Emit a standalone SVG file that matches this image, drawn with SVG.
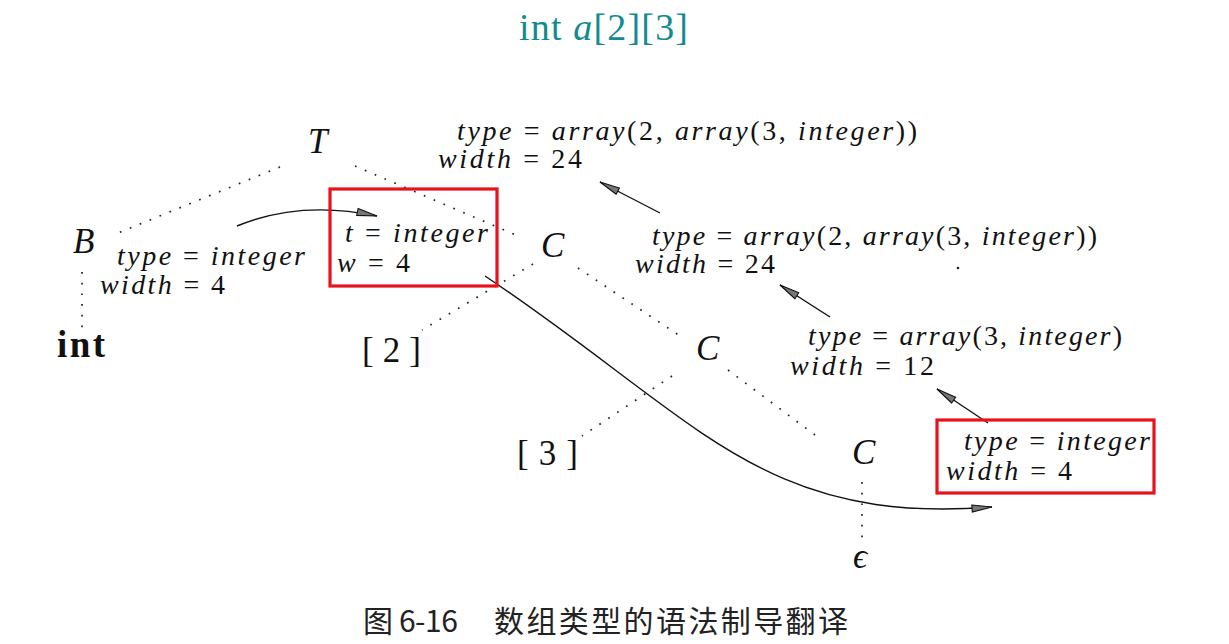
<svg xmlns="http://www.w3.org/2000/svg" width="1229" height="644" viewBox="0 0 1229 644">
<style>
.lbl{font-family:"Liberation Serif",serif;font-style:italic;font-size:35px;fill:#111}
.attr{font-family:"Liberation Serif",serif;font-style:italic;font-size:28px;fill:#111}
.up{font-style:normal}
.br{font-family:"Liberation Serif",serif;font-size:35px;fill:#111}
.dot{stroke:#222;stroke-width:1.7;stroke-dasharray:1.7 9;fill:none}
.arr{stroke:#111;stroke-width:1.4;fill:none;marker-end:url(#ah)}
.box{fill:none;stroke:#e8121b;stroke-width:3.2}
.cap{font-family:"Noto Sans CJK SC","Noto Sans CJK TC",sans-serif;font-size:30px;fill:#222}
</style>
<defs>
<marker id="ah" markerUnits="userSpaceOnUse" markerWidth="24" markerHeight="12" refX="21" refY="5" orient="auto">
<path d="M1,1.5 L21,5 L1,8.5 Z" fill="#777" stroke="#111" stroke-width="1.1"/>
</marker>
</defs>
<rect width="1229" height="644" fill="#fff"/>
<text id="title" x="519" y="40" font-family="Liberation Serif,serif" font-size="38" fill="#138a8f" textLength="169">int <tspan font-style="italic">a</tspan>[2][3]</text>

<g id="connectors">
<line class="dot" x1="280" y1="167" x2="118" y2="233"/>
<line class="dot" x1="355" y1="166" x2="518" y2="236"/>
<line class="dot" x1="82" y1="272" x2="82" y2="328"/>
<line class="dot" x1="533" y1="264" x2="422" y2="330"/>
<line class="dot" x1="578" y1="268" x2="683" y2="338"/>
<line class="dot" x1="672" y1="376" x2="582" y2="436"/>
<line class="dot" x1="728" y1="370" x2="815" y2="435"/>
<line class="dot" x1="862" y1="482" x2="862" y2="546"/>
<path class="arr" d="M237,226 Q300,200 377,216"/>
<path class="arr" d="M485,276 C700,420 760,525 992,507"/>
<path class="arr" d="M660,213 L600,182"/>
<path class="arr" d="M830,317 L780,285"/>
<path class="arr" d="M988,423 L937,389"/>
</g>

<g id="node-T">
<text class="lbl" x="308" y="153" textLength="24">T</text>
<text class="attr" x="457" y="140" textLength="460">type<tspan class="up"> = </tspan>array<tspan class="up">(2, </tspan>array<tspan class="up">(3, </tspan>integer<tspan class="up">))</tspan></text>
<text class="attr" x="438" y="168" textLength="144">width<tspan class="up"> = 24</tspan></text>
</g>

<g id="node-B">
<text class="lbl" x="73" y="253" textLength="22">B</text>
<text class="attr" x="117" y="265" textLength="188">type<tspan class="up"> = </tspan>integer</text>
<text class="attr" x="100" y="294" textLength="125">width<tspan class="up"> = 4</tspan></text>
</g>

<g id="node-int">
<text x="57" y="357" font-family="Liberation Serif,serif" font-weight="bold" font-size="37" fill="#111" textLength="48">int</text>
</g>

<g id="node-inh1">
<rect class="box" x="330" y="189" width="167" height="97"/>
<text class="attr" x="345" y="242" textLength="143">t<tspan class="up"> = </tspan>integer</text>
<text class="attr" x="337" y="272" textLength="73">w<tspan class="up"> = 4</tspan></text>
</g>

<g id="node-C1">
<text class="lbl" x="541" y="257" textLength="23">C</text>
<text class="attr" x="652" y="245" textLength="445">type<tspan class="up"> = </tspan>array<tspan class="up">(2, </tspan>array<tspan class="up">(3, </tspan>integer<tspan class="up">))</tspan></text>
<text class="attr" x="635" y="273" textLength="140">width<tspan class="up"> = 24</tspan></text>
<circle cx="958" cy="268" r="1.3" fill="#222"/>
</g>

<g id="node-2">
<text class="br" x="362" y="362" textLength="59">[ 2 ]</text>
</g>

<g id="node-C2">
<text class="lbl" x="696" y="360" textLength="23">C</text>
<text class="attr" x="808" y="345" textLength="314">type<tspan class="up"> = </tspan>array<tspan class="up">(3, </tspan>integer<tspan class="up">)</tspan></text>
<text class="attr" x="790" y="375" textLength="144">width<tspan class="up"> = 12</tspan></text>
</g>

<g id="node-3">
<text class="br" x="517" y="465" textLength="61">[ 3 ]</text>
</g>

<g id="node-C3">
<text class="lbl" x="852" y="464" textLength="23">C</text>
</g>

<g id="node-inh2">
<rect class="box" x="937" y="420" width="217" height="73"/>
<text class="attr" x="964" y="450" textLength="186">type<tspan class="up"> = </tspan>integer</text>
<text class="attr" x="946" y="480" textLength="126">width<tspan class="up"> = 4</tspan></text>
</g>

<g id="node-eps">
<text class="lbl" x="853" y="568" font-size="28">ϵ</text>
</g>

<g id="caption">
<text class="cap" x="363" y="632" textLength="95">图 6-16</text>
<text class="cap" x="494" y="632" textLength="354">数组类型的语法制导翻译</text>
</g>
</svg>
